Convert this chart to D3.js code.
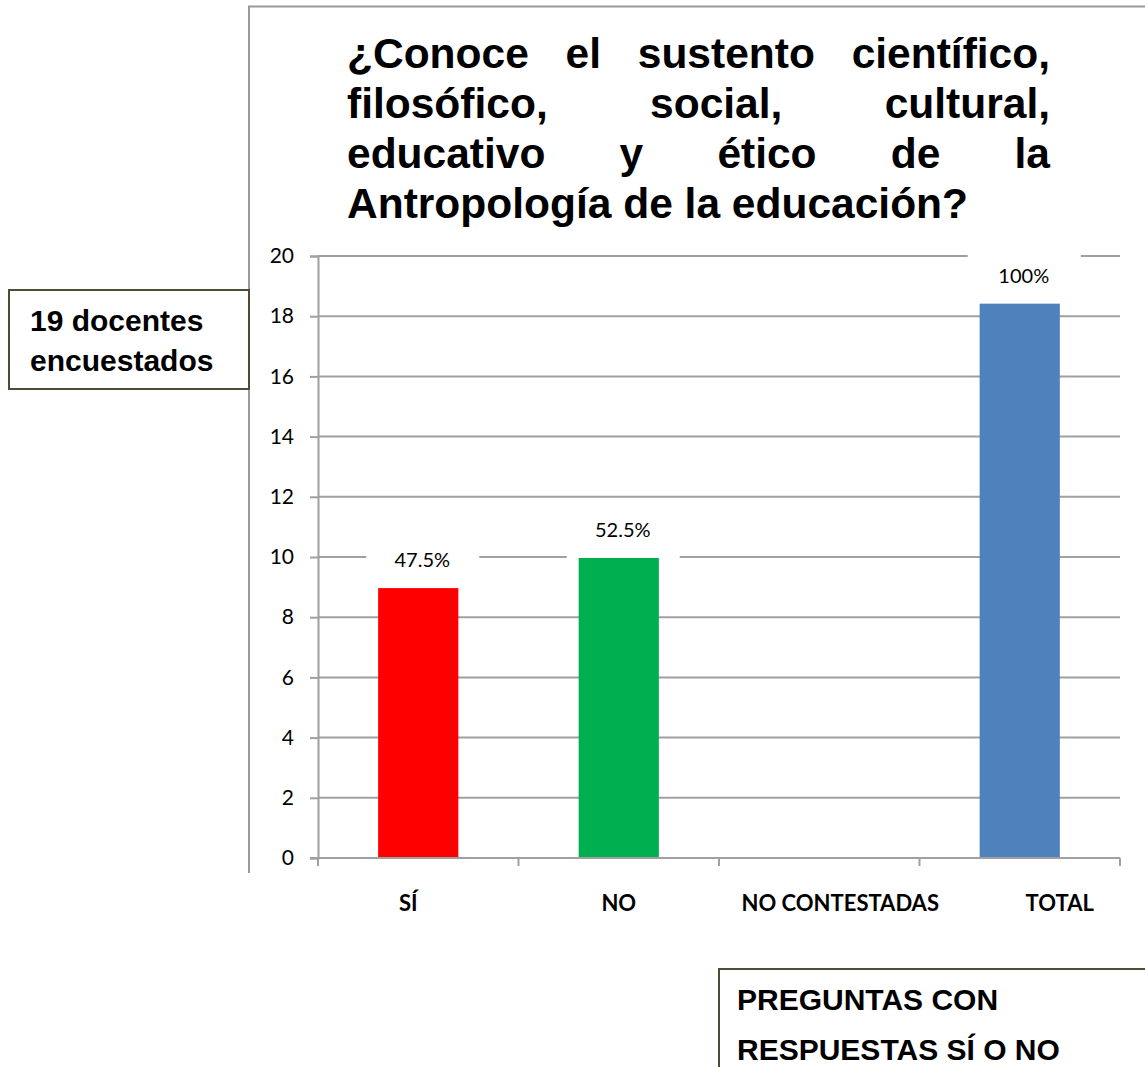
<!DOCTYPE html>
<html>
<head>
<meta charset="utf-8">
<script src="https://cdn.jsdelivr.net/npm/d3@7"></script>
<style>
  body { margin: 0; background: #fff; }
  svg { display: block; }
</style>
</head>
<body>
<div id="chart"></div>
<script>
// data
var categories = ["SÍ", "NO", "NO CONTESTADAS", "TOTAL"];
var values = [9, 10, null, 18.45];
var pctLabels = ["47.5%", "52.5%", "", "100%"];
var barColors = ["#ff0000", "#00b050", "#ffffff", "#4f81bd"];
var yTicks = [0, 2, 4, 6, 8, 10, 12, 14, 16, 18, 20];
var titleLines = [
  "¿Conoce el sustento científico,",
  "filosófico, social, cultural,",
  "educativo y ético de la",
  "Antropología de la educación?"
];
var leftNote = ["19 docentes", "encuestados"];
var bottomNote = ["PREGUNTAS CON", "RESPUESTAS SÍ O NO"];

var width = 1145, height = 1067;
var svg = d3.select("#chart").append("svg")
  .attr("width", width).attr("height", height);

// outer chart frame (only left and top edges visible)
svg.append("path")
  .attr("d", "M249,873 V6.5 H1145")
  .attr("fill", "none").attr("stroke", "#999").attr("stroke-width", 2);

// title, justified like the original
var tLeft = 347, tRight = 1050;
var title = svg.append("g")
  .attr("font-family", "Liberation Sans, Arial, sans-serif")
  .attr("font-weight", "bold").attr("font-size", 42.5).attr("fill", "#000");
titleLines.forEach((line, i) => {
  var y = 68 + i * 50;
  if (i == titleLines.length - 1) {
    title.append("text").attr("x", tLeft).attr("y", y).text(line);
    return;
  }
  var words = line.split(" ");
  var nodes = words.map(w => title.append("text").attr("y", y).text(w));
  var total = d3.sum(nodes, n => n.node().getComputedTextLength());
  var gap = (tRight - tLeft - total) / (words.length - 1);
  var x = tLeft;
  nodes.forEach(n => {
    n.attr("x", x);
    x += n.node().getComputedTextLength() + gap;
  });
});

// plot area
var x0 = 318, x1 = 1120, yTop = 256, yBot = 858;
var x = d3.scaleBand().domain(categories).range([x0, x1]).paddingInner(0.6).paddingOuter(0.3);
var xb = d3.scaleBand().domain(categories).range([x0, x1]);
var y = d3.scaleLinear().domain([0, 20]).range([yBot, yTop]);

var grid = svg.append("g");
grid.selectAll("line").data(yTicks.filter(d => d > 0)).enter()
  .append("line")
  .attr("x1", x0).attr("x2", x1)
  .attr("y1", d => y(d)).attr("y2", d => y(d))
  .attr("stroke", "#a0a0a0").attr("stroke-width", 2);

var yAxis = svg.append("g").attr("transform", "translate(" + x0 + ",0)")
  .call(d3.axisLeft(y).tickValues(yTicks).tickSize(8).tickPadding(16));
yAxis.select(".domain").attr("stroke", "#a0a0a0").attr("stroke-width", 2);
yAxis.selectAll(".tick line").attr("stroke", "#a0a0a0").attr("stroke-width", 2);
yAxis.selectAll("text")
  .attr("font-family", "Lato, Open Sans, sans-serif").attr("font-size", 21).attr("fill", "#000");

// bars
var data = categories.map((c, i) => ({ cat: c, v: values[i], lbl: pctLabels[i], col: barColors[i] }));
svg.append("g").selectAll("rect").data(data.filter(d => d.v != null)).enter()
  .append("rect")
  .attr("x", d => x(d.cat)).attr("width", x.bandwidth())
  .attr("y", d => y(d.v)).attr("height", d => yBot - y(d.v))
  .attr("fill", d => d.col);

// x axis with ticks between categories
var xAxis = svg.append("g");
xAxis.append("line").attr("x1", x0 - 8).attr("x2", x1)
  .attr("y1", yBot).attr("y2", yBot)
  .attr("stroke", "#a0a0a0").attr("stroke-width", 2);
var bounds = categories.map(c => xb(c)).concat([x1]);
xAxis.selectAll(".tk").data(bounds).enter()
  .append("line").attr("class", "tk")
  .attr("x1", d => d).attr("x2", d => d)
  .attr("y1", yBot).attr("y2", yBot + 8)
  .attr("stroke", "#a0a0a0").attr("stroke-width", 2);
xAxis.selectAll("text").data(categories).enter()
  .append("text")
  .attr("x", d => xb(d) + xb.bandwidth() / 2 + (d == "TOTAL" ? 40 : d == "NO CONTESTADAS" ? 21 : d == "SÍ" ? -10 : 0))
  .attr("y", 911)
  .attr("text-anchor", "middle")
  .attr("font-family", "Lato, Open Sans, sans-serif").attr("font-weight", "bold")
  .attr("font-size", 22).attr("fill", "#000")
  .text(d => d);

// data labels on white boxes
var labels = svg.append("g").selectAll("g").data(data.filter(d => d.lbl)).enter()
  .append("g")
  .attr("transform", d => "translate(" + (x(d.cat) + x.bandwidth() / 2 + 4) + "," + (y(d.v) - 27) + ")");
labels.append("rect")
  .attr("x", -56).attr("y", -24).attr("width", 113).attr("height", 52)
  .attr("fill", "#fff");
labels.append("text")
  .attr("text-anchor", "middle").attr("dy", "0.35em")
  .attr("font-family", "Lato, Open Sans, sans-serif").attr("font-size", 20).attr("fill", "#000")
  .text(d => d.lbl);

// side notes
function noteBox(bx, by, bw, bh, lines, tx, ty, lh, fs) {
  var g = svg.append("g");
  g.append("rect").attr("x", bx).attr("y", by).attr("width", bw).attr("height", bh)
    .attr("fill", "#fff").attr("stroke", "#4f4b35").attr("stroke-width", 2);
  lines.forEach((l, i) => {
    g.append("text").attr("x", tx).attr("y", ty + i * lh)
      .attr("font-family", "Liberation Sans, Arial, sans-serif").attr("font-weight", "bold")
      .attr("font-size", fs).attr("fill", "#000").text(l);
  });
}
noteBox(9, 290, 240, 99, leftNote, 30, 331, 40, 30);
noteBox(719, 969, 440, 120, bottomNote, 737, 1010, 50, 30);
</script>
</body>
</html>
